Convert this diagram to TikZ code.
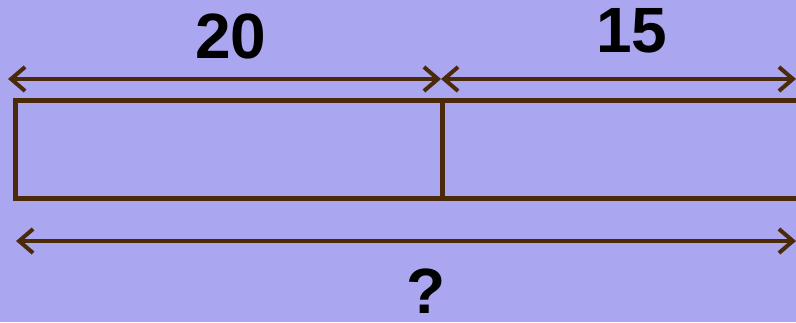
\documentclass[tikz,border=0pt]{standalone}
\usepackage{fontspec}
\setmainfont{Liberation Sans}
\usetikzlibrary{positioning, arrows.meta}
\definecolor{barbrown}{RGB}{75,42,10}
\definecolor{backlav}{RGB}{171,166,240}

\begin{document}
\begin{tikzpicture}[x=1pt, y=1pt, >={Straight Barb[length=14pt,width=24pt]},
    bar/.style={draw=barbrown, line width=5pt, minimum height=97pt, inner sep=0pt, outer sep=0pt},
    num/.style={font=\fontsize{64}{64}\selectfont\bfseries, inner sep=0pt},
    dim/.style={<->, draw=barbrown, line width=4pt}]
    \fill[backlav] (0,0) rectangle (796,322);
    \useasboundingbox (0,0) rectangle (796,322);
    %bar model
    \node (part1) [bar, minimum width=427pt, anchor=north west] at (15,221) {};
    \node (part2) [bar, minimum width=380pt, anchor=north west] at (part1.north east) {};

    \coordinate (topleft) at (8,243);
    \coordinate (topmid) at (441,243);
    \coordinate (topright) at (796,243);
    \coordinate (botleft) at (16,81);
    \coordinate (botright) at (796,81);

    \draw[dim] (topleft) -- (topmid);
    \draw[dim] (topmid) -- (topright);
    \draw[dim] (botleft) -- (botright);

    \node (lbl20) [num] at (231,286) {20};
    \node (lbl15) [num] at (632,291) {15};
    \node (total) [num] at (426,31) {?};
\end{tikzpicture}
\end{document}
